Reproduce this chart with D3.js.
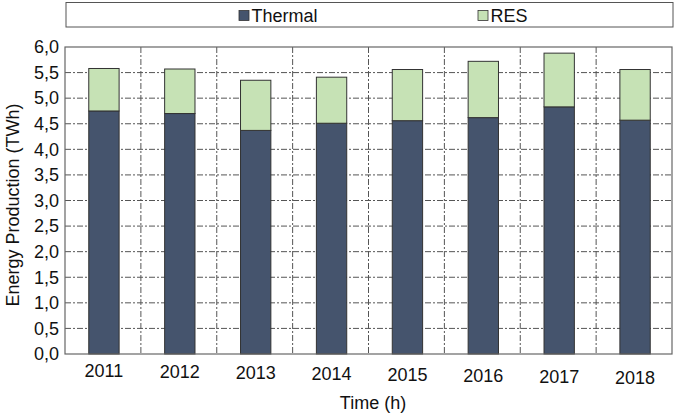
<!DOCTYPE html>
<html><head><meta charset="utf-8">
<script src="https://cdn.jsdelivr.net/npm/d3@7"></script>
<style>body{margin:0;background:#fff}text{font-family:"Liberation Sans",Arial,sans-serif}</style>
</head><body><svg id="c" width="685" height="419"></svg>
<script>
const years = ["2011","2012","2013","2014","2015","2016","2017","2018"];
const thermal = [4.75, 4.70, 4.37, 4.51, 4.56, 4.62, 4.83, 4.57];
const res = [0.83, 0.87, 0.98, 0.90, 1.00, 1.10, 1.05, 0.99];
const yTicks = [0,0.5,1,1.5,2,2.5,3,3.5,4,4.5,5,5.5,6];
const seriesNames = ["Thermal","RES"];
const colors = {Thermal:"#45546d", RES:"#c6e2b5"};

const svg = d3.select("#c");
const L=65, R=672, T=47, B=354;
const FS = 18;
const x = d3.scaleBand().domain(years).range([L,R]).padding(0);
const y = d3.scaleLinear().domain([0,6]).range([B,T]);
const g = svg.append("g");

// gridlines
const dash = "6,2,2,2";
g.selectAll(".hg").data(yTicks.filter(v=>v>0&&v<6)).join("line")
 .attr("x1",L).attr("x2",R).attr("y1",d=>y(d)).attr("y2",d=>y(d))
 .attr("stroke","#555").attr("stroke-width",1).attr("stroke-dasharray",dash);
g.selectAll(".vg").data(years.slice(1)).join("line")
 .attr("x1",d=>x(d)).attr("x2",d=>x(d)).attr("y1",T).attr("y2",B)
 .attr("stroke","#555").attr("stroke-width",1).attr("stroke-dasharray",dash);

// bars
const bw = x.bandwidth()*0.4;
const data = years.map((yr,i)=>({yr, t:thermal[i], r:res[i]}));
g.selectAll(".bt").data(data).join("rect")
 .attr("x",d=>x(d.yr)+x.bandwidth()/2-bw/2+1).attr("width",bw)
 .attr("y",d=>y(d.t)).attr("height",d=>y(0)-y(d.t))
 .attr("fill",colors.Thermal).attr("stroke","#333").attr("stroke-width",1);
g.selectAll(".br").data(data).join("rect")
 .attr("x",d=>x(d.yr)+x.bandwidth()/2-bw/2+1).attr("width",bw)
 .attr("y",d=>y(d.t+d.r)).attr("height",d=>y(d.t)-y(d.t+d.r))
 .attr("fill",colors.RES).attr("stroke","#333").attr("stroke-width",1);

// frame
g.append("rect").attr("x",L).attr("y",T).attr("width",R-L).attr("height",B-T)
 .attr("fill","none").attr("stroke","#666").attr("stroke-width",1.2);

// y axis labels
const fmt = d=>d3.format(".1f")(d).replace(".",",");
g.selectAll(".yl").data(yTicks).join("text")
 .attr("x",L-6).attr("y",d=>y(d)).attr("dy","0.35em").attr("text-anchor","end")
 .attr("font-size",FS).attr("fill","#111").text(fmt);
// x labels
g.selectAll(".xl").data(years).join("text")
 .attr("x",d=>x(d)+x.bandwidth()/2+1).attr("y",(d,i)=>371+i*1.0).attr("dy","0.35em")
 .attr("text-anchor","middle").attr("font-size",FS).attr("fill","#111").text(d=>d);

// titles
svg.append("text").attr("x",373).attr("y",403).attr("dy","0.35em").attr("text-anchor","middle")
 .attr("font-size",FS).attr("fill","#111").text("Time (h)");
svg.append("text").attr("transform","translate(13,205) rotate(-90)").attr("dy","0.35em")
 .attr("text-anchor","middle").attr("font-size",FS).attr("fill","#111").text("Energy Production (TWh)");

// legend
svg.append("rect").attr("x",66).attr("y",2.5).attr("width",607).attr("height",24.5)
 .attr("fill","#fff").attr("stroke","#555").attr("stroke-width",1);
const lx = [239, 478];
seriesNames.forEach((n,i)=>{
  svg.append("rect").attr("x",lx[i]).attr("y",10.5).attr("width",10).attr("height",10)
   .attr("fill",colors[n]).attr("stroke","#333").attr("stroke-width",0.8);
  svg.append("text").attr("x",lx[i]+12.5).attr("y",15.5).attr("dy","0.35em")
   .attr("font-size",FS).attr("fill","#111").text(n);
});
</script></body></html>
